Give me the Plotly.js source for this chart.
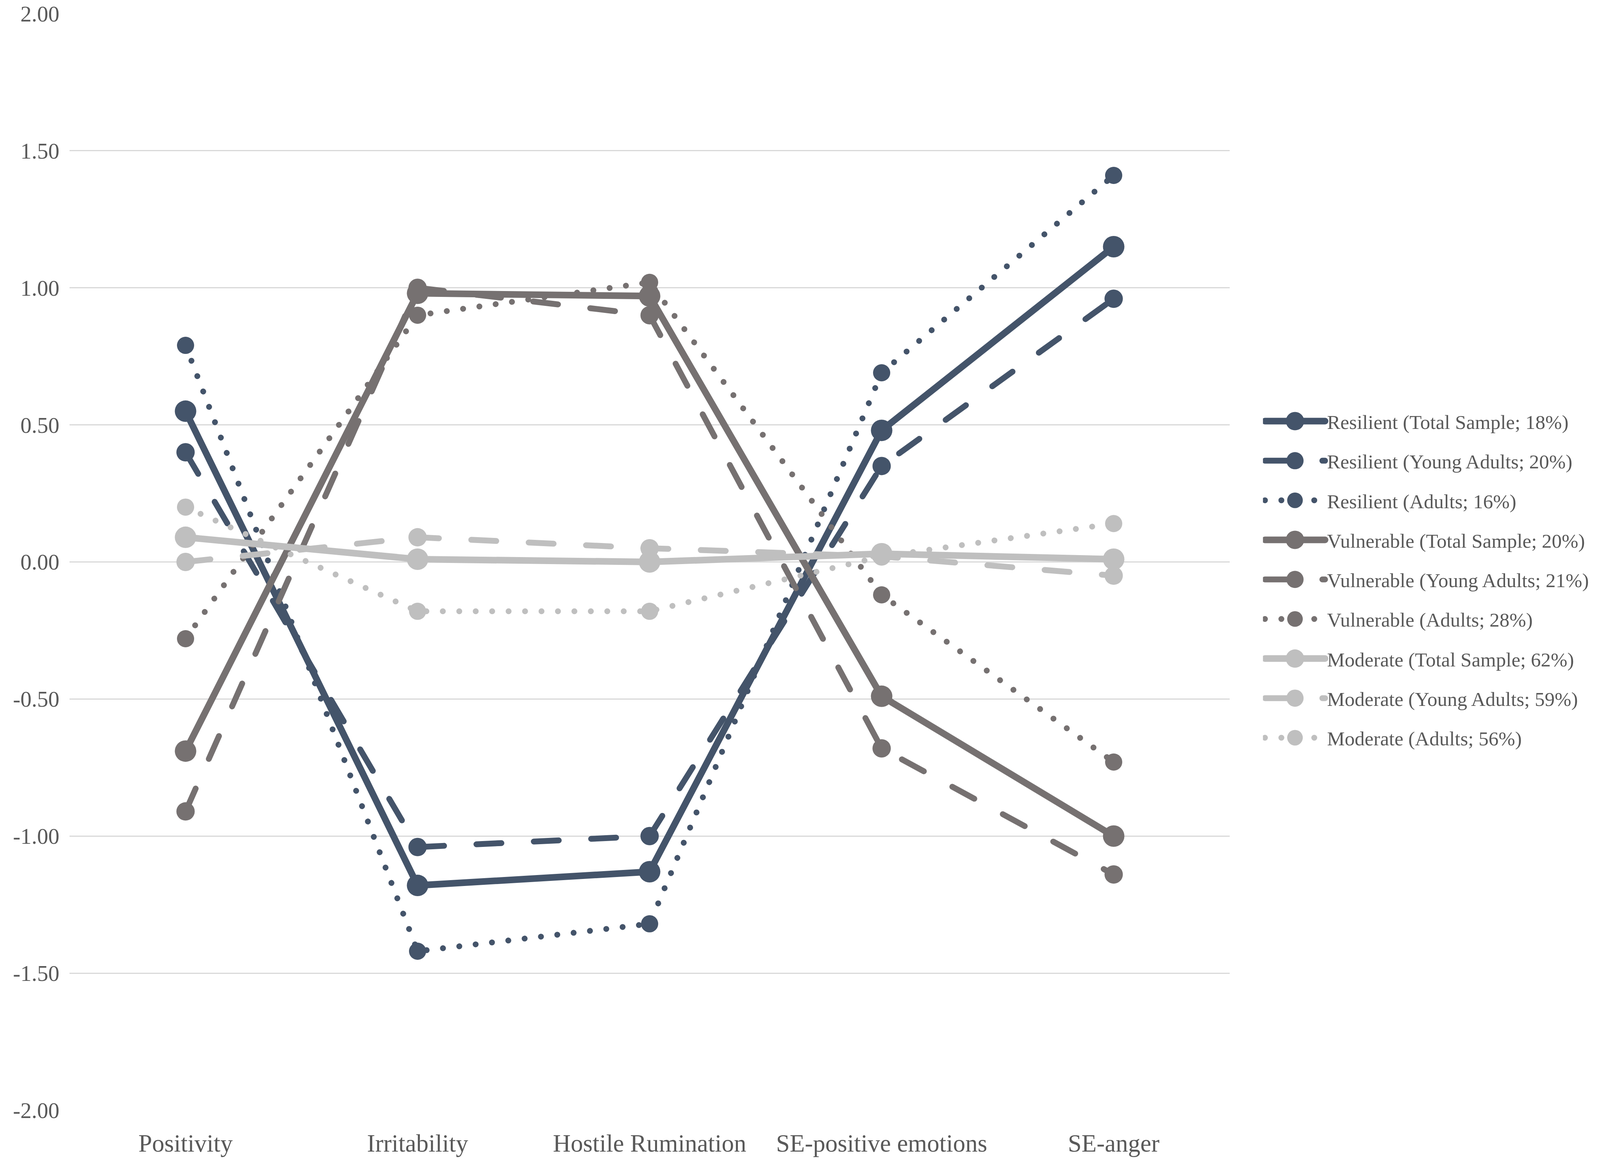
<!DOCTYPE html>
<html>
<head>
<meta charset="utf-8">
<script src="https://cdn.plot.ly/plotly-3.0.1.min.js"></script>
<style>
html, body { margin: 0; padding: 0; background: #ffffff; overflow: hidden; }
.scatterlayer path.js-line, .legendlines path.js-line { stroke-linecap: round; }
</style>
</head>
<body>
<div id="chart"></div>
<script>
// Categories (x axis)
const categories = ["Positivity", "Irritability", "Hostile Rumination", "SE-positive emotions", "SE-anger"];

// Series values (standardized scores)
const resilientTotal = [0.55, -1.18, -1.13, 0.48, 1.15];
const resilientYoung = [0.40, -1.04, -1.00, 0.35, 0.96];
const resilientAdults = [0.79, -1.42, -1.32, 0.69, 1.41];
const vulnerableTotal = [-0.69, 0.98, 0.97, -0.49, -1.00];
const vulnerableYoung = [-0.91, 1.00, 0.90, -0.68, -1.14];
const vulnerableAdults = [-0.28, 0.90, 1.02, -0.12, -0.73];
const moderateTotal = [0.09, 0.01, 0.00, 0.03, 0.01];
const moderateYoung = [0.00, 0.09, 0.05, 0.02, -0.05];
const moderateAdults = [0.20, -0.18, -0.18, 0.02, 0.14];

// Series names (legend labels)
const seriesNames = [
  "Resilient (Total Sample; 18%)",
  "Resilient (Young Adults; 20%)",
  "Resilient (Adults; 16%)",
  "Vulnerable (Total Sample; 20%)",
  "Vulnerable (Young Adults; 21%)",
  "Vulnerable (Adults; 28%)",
  "Moderate (Total Sample; 62%)",
  "Moderate (Young Adults; 59%)",
  "Moderate (Adults; 56%)"
];

// Y tick values and labels
const yTicks = [-2, -1.5, -1, -0.5, 0, 0.5, 1, 1.5, 2];
const yTickLabels = ["-2.00", "-1.50", "-1.00", "-0.50", "0.00", "0.50", "1.00", "1.50", "2.00"];

const seriesValues = [resilientTotal, resilientYoung, resilientAdults,
                      vulnerableTotal, vulnerableYoung, vulnerableAdults,
                      moderateTotal, moderateYoung, moderateAdults];

// Page size: the target is 4562 x 2972; fit the width to the actual viewport
const REF_W = 4562, REF_H = 2972;
const W = Math.min(window.innerWidth || REF_W, REF_W);
const H = REF_H;
const s = W / REF_W;                 // horizontal scale
const fs = s;                        // font scale (keeps text widths proportional)
const ms = Math.sqrt(s);             // marker / dash scale

document.getElementById("chart").style.width = W + "px";
document.getElementById("chart").style.height = H + "px";

const BLUE = "#44546A", GRAY = "#767171", LIGHT = "#BFBFBF";
const colorFor = [BLUE, BLUE, BLUE, GRAY, GRAY, GRAY, LIGHT, LIGHT, LIGHT];
const styleFor = [
  {dash: "solid", width: 17, size: Math.round(58 * ms), lsize: Math.round(50 * ms)},
  {dash: Math.round(68 * ms) + "px," + Math.round(88 * ms) + "px", width: 15, size: Math.round(50 * ms), lsize: Math.round(46 * ms)},
  {dash: "0.1px," + Math.round(44 * ms) + "px", width: 15, size: Math.round(46 * ms), lsize: Math.round(42 * ms)}
];

const traces = seriesValues.map((vals, i) => {
  const st = styleFor[i % 3];
  return {
    type: "scatter",
    mode: "lines+markers",
    name: seriesNames[i],
    legendgroup: "g" + i,
    x: categories,
    y: vals,
    line: {color: colorFor[i], width: st.width, dash: st.dash},
    marker: {color: colorFor[i], size: st.size, symbol: "circle"},
    hoverinfo: "x+y+name"
  };
});

const FONT = "Liberation Serif, Times New Roman, serif";
const mL = Math.round(198 * s), mR = Math.round(1056 * s);
const plotW = W - mL - mR;
const legendLinePx = 3601 * s;

const layout = {
  width: W,
  height: H,
  paper_bgcolor: "#ffffff",
  plot_bgcolor: "#ffffff",
  margin: {l: mL, r: mR, t: 35, b: 130},
  font: {family: FONT, color: "#595959", size: Math.round(64 * fs)},
  showlegend: true,
  legend: {
    x: (legendLinePx - mL) / plotW, xanchor: "left",
    y: 0.484, yanchor: "middle",
    font: {family: FONT, size: Math.round(57 * fs), color: "#595959"},
    traceorder: "grouped",
    tracegroupgap: 32,
    itemwidth: Math.round(172 * s),
    bgcolor: "rgba(0,0,0,0)",
    borderwidth: 0
  },
  xaxis: {
    type: "category",
    categoryorder: "array",
    categoryarray: categories,
    range: [-0.5, 4.5],
    showgrid: false,
    zeroline: false,
    showline: false,
    ticks: "",
    ticklabelstandoff: 42,
    tickfont: {family: FONT, size: Math.round(70 * fs), color: "#595959"}
  },
  yaxis: {
    range: [-2, 2],
    tickvals: yTicks,
    ticktext: yTickLabels,
    showgrid: true,
    gridcolor: "#D9D9D9",
    gridwidth: 3,
    zeroline: false,
    showline: false,
    ticks: "",
    ticklabelstandoff: Math.round(28 * s),
    tickfont: {family: FONT, size: Math.round(64 * fs), color: "#595959"}
  }
};

Plotly.newPlot("chart", traces, layout, {staticPlot: true, displayModeBar: false}).then(gd => {
  // enlarge legend symbols to match the figure's thick lines and big markers
  const legendTraces = gd.querySelectorAll(".legend .traces");
  legendTraces.forEach((g, i) => {
    const st = styleFor[i % 3];
    g.querySelectorAll(".legendlines path").forEach(p => { p.style.strokeWidth = st.width + "px"; });
    g.querySelectorAll(".legendpoints path").forEach(p => {
      const r = st.lsize / 2;
      p.setAttribute("d", "M" + r + ",0A" + r + "," + r + " 0 1,1 0,-" + r + "A" + r + "," + r + " 0 0,1 " + r + ",0Z");
    });
  });
});
</script>
</body>
</html>
